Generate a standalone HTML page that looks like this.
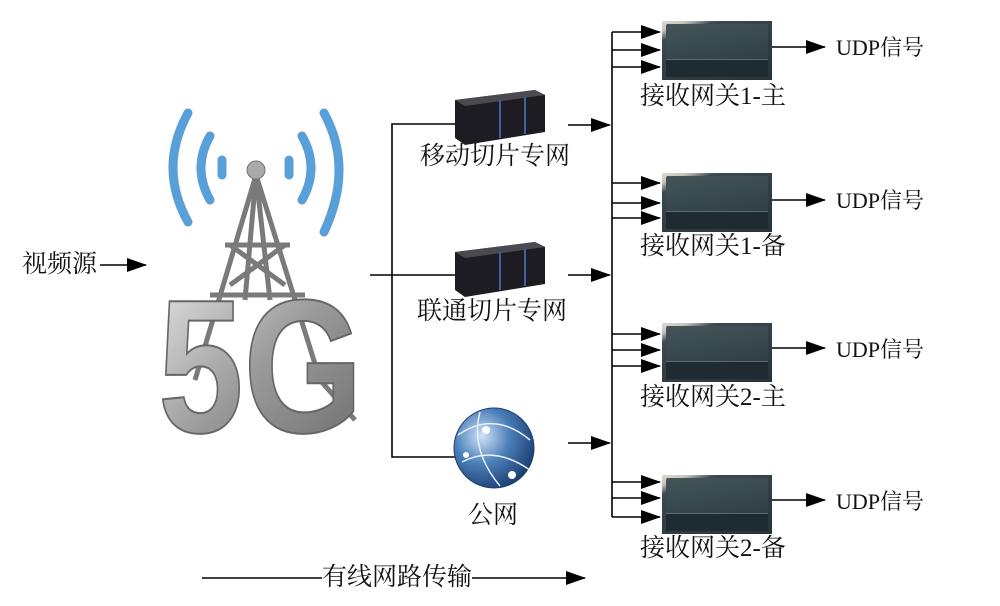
<!DOCTYPE html>
<html><head><meta charset="utf-8">
<style>
html,body{margin:0;padding:0;background:#fff;}
body{width:1000px;height:606px;position:relative;overflow:hidden;font-family:"Liberation Serif","Noto Serif CJK SC","Noto Sans CJK SC",serif;color:#111;}
.t{position:absolute;font-size:25px;line-height:26px;white-space:nowrap;}
.u{font-size:22px;}
.gw{position:absolute;width:110px;height:59px;background:linear-gradient(160deg,#e0dcd2 0%,#c8c4bc 10%,#3a4a4e 20%,#2e3d42 60%,#26343a 100%);}
.gw:before{content:"";position:absolute;left:4px;right:4px;top:3px;height:36px;background:linear-gradient(170deg,#445559,#2f3f44);border-radius:2px;}
.gw:after{content:"";position:absolute;left:4px;right:4px;bottom:3px;height:17px;background:#1f2b30;border-top:1px solid #5a6a6e;}
</style></head><body>
<svg width="1000" height="606" style="position:absolute;left:0;top:0">
<defs>
<marker id="b" markerWidth="20" markerHeight="14" refX="19" refY="7" orient="auto" markerUnits="userSpaceOnUse"><path d="M0,0 L20,7 L0,14 z" fill="#000"/></marker>
<linearGradient id="g5" x1="0" y1="0" x2="1" y2="1"><stop offset="0" stop-color="#e8e8e8"/><stop offset="0.5" stop-color="#9a9a9a"/><stop offset="1" stop-color="#6a6a6a"/></linearGradient>
<radialGradient id="gl" cx="0.35" cy="0.35" r="0.7"><stop offset="0" stop-color="#cfe3f5"/><stop offset="0.5" stop-color="#4a7fb8"/><stop offset="1" stop-color="#1d3f72"/></radialGradient>
</defs>
<g stroke="#000" stroke-width="1.6" fill="none">
<line x1="100" y1="265" x2="146" y2="265" marker-end="url(#b)"/>
<line x1="370" y1="275" x2="455" y2="275"/>
<polyline points="455,124 392,124 392,457 455,457"/>
<line x1="568" y1="125" x2="610" y2="125" marker-end="url(#b)"/>
<line x1="568" y1="275" x2="610" y2="275" marker-end="url(#b)"/>
<line x1="568" y1="443" x2="610" y2="443" marker-end="url(#b)"/>
<line x1="612" y1="32" x2="612" y2="517"/>
<line x1="612" y1="32" x2="660" y2="32" marker-end="url(#b)"/>
<line x1="612" y1="50" x2="660" y2="50" marker-end="url(#b)"/>
<line x1="612" y1="67" x2="660" y2="67" marker-end="url(#b)"/>
<line x1="612" y1="183" x2="660" y2="183" marker-end="url(#b)"/>
<line x1="612" y1="203" x2="660" y2="203" marker-end="url(#b)"/>
<line x1="612" y1="218" x2="660" y2="218" marker-end="url(#b)"/>
<line x1="612" y1="334" x2="660" y2="334" marker-end="url(#b)"/>
<line x1="612" y1="350" x2="660" y2="350" marker-end="url(#b)"/>
<line x1="612" y1="366" x2="660" y2="366" marker-end="url(#b)"/>
<line x1="612" y1="482" x2="660" y2="482" marker-end="url(#b)"/>
<line x1="612" y1="498" x2="660" y2="498" marker-end="url(#b)"/>
<line x1="612" y1="517" x2="660" y2="517" marker-end="url(#b)"/>
<line x1="772" y1="47" x2="825" y2="47" marker-end="url(#b)"/>
<line x1="772" y1="200" x2="825" y2="200" marker-end="url(#b)"/>
<line x1="772" y1="348" x2="825" y2="348" marker-end="url(#b)"/>
<line x1="772" y1="500" x2="825" y2="500" marker-end="url(#b)"/>
<line x1="202" y1="578" x2="322" y2="578"/>
<line x1="472" y1="578" x2="585" y2="578" marker-end="url(#b)"/>
</g>
<g fill="none" stroke="#5aa0d8" stroke-width="9" stroke-linecap="round">
<path d="M188,113 Q158,168 188,222"/>
<path d="M210,136 Q192,168 210,200"/>
<path d="M222,160 L222,175"/>
<path d="M289,160 L289,175"/>
<path d="M302,136 Q320,168 302,200"/>
<path d="M324,113 Q354,168 324,232"/>
</g>
<g stroke="#7a7a7a" stroke-width="5" fill="none">
<line x1="256" y1="175" x2="195" y2="380"/>
<line x1="256" y1="175" x2="320" y2="380"/>
<line x1="256" y1="175" x2="245" y2="300"/>
<line x1="256" y1="175" x2="270" y2="300"/>
<line x1="225" y1="245" x2="290" y2="245"/>
<line x1="230" y1="245" x2="285" y2="285"/>
<line x1="285" y1="245" x2="230" y2="285"/>
<line x1="210" y1="295" x2="305" y2="295"/>
<line x1="320" y1="380" x2="355" y2="420"/>
</g>
<circle cx="256" cy="170" r="9" fill="#aaa" stroke="#777"/>
<text x="158" y="432" font-family="Liberation Sans,sans-serif" font-weight="bold" font-size="190" fill="url(#g5)" stroke="#666" stroke-width="2" textLength="205" lengthAdjust="spacingAndGlyphs">5G</text>
<g>
<polygon points="455,100 535,90 545,95 545,132 465,145 455,138" fill="#1c1c22"/>
<polygon points="455,100 535,90 545,95 465,106" fill="#4a4a50"/>
<line x1="500" y1="100" x2="500" y2="138" stroke="#4060a0" stroke-width="2"/>
<line x1="525" y1="97" x2="525" y2="134" stroke="#4060a0" stroke-width="2"/>
<polygon points="455,252 535,242 545,247 545,284 465,297 455,290" fill="#1c1c22"/>
<polygon points="455,252 535,242 545,247 465,258" fill="#4a4a50"/>
<line x1="500" y1="252" x2="500" y2="290" stroke="#4060a0" stroke-width="2"/>
<line x1="525" y1="249" x2="525" y2="286" stroke="#4060a0" stroke-width="2"/>
</g>
<ellipse cx="494" cy="448" rx="40" ry="40" fill="url(#gl)" stroke="#1d3f72"/>
<path d="M458,435 Q494,410 530,440 M462,462 Q494,445 530,470 M480,412 Q470,450 500,486" stroke="#e8f0ff" stroke-width="1.5" fill="none"/>
<circle cx="486" cy="430" r="4" fill="#fff"/><circle cx="512" cy="475" r="4" fill="#fff"/><circle cx="466" cy="455" r="3" fill="#fff"/>
</svg>

<div class="gw" style="left:662px;top:21px"></div>
<div class="gw" style="left:662px;top:173px"></div>
<div class="gw" style="left:662px;top:323px"></div>
<div class="gw" style="left:662px;top:475px"></div>

<div class="t" style="left:22px;top:252px">视频源</div>
<div class="t" style="left:420px;top:144px">移动切片专网</div>
<div class="t" style="left:417px;top:299px">联通切片专网</div>
<div class="t" style="left:468px;top:503px">公网</div>
<div class="t" style="left:640px;top:84px">接收网关1-主</div>
<div class="t" style="left:640px;top:234px">接收网关1-备</div>
<div class="t" style="left:640px;top:385px">接收网关2-主</div>
<div class="t" style="left:640px;top:536px">接收网关2-备</div>
<div class="t u" style="left:836px;top:35px">UDP信号</div>
<div class="t u" style="left:836px;top:188px">UDP信号</div>
<div class="t u" style="left:836px;top:337px">UDP信号</div>
<div class="t u" style="left:836px;top:489px">UDP信号</div>
<div class="t" style="left:322px;top:565px">有线网路传输</div>
</body></html>
